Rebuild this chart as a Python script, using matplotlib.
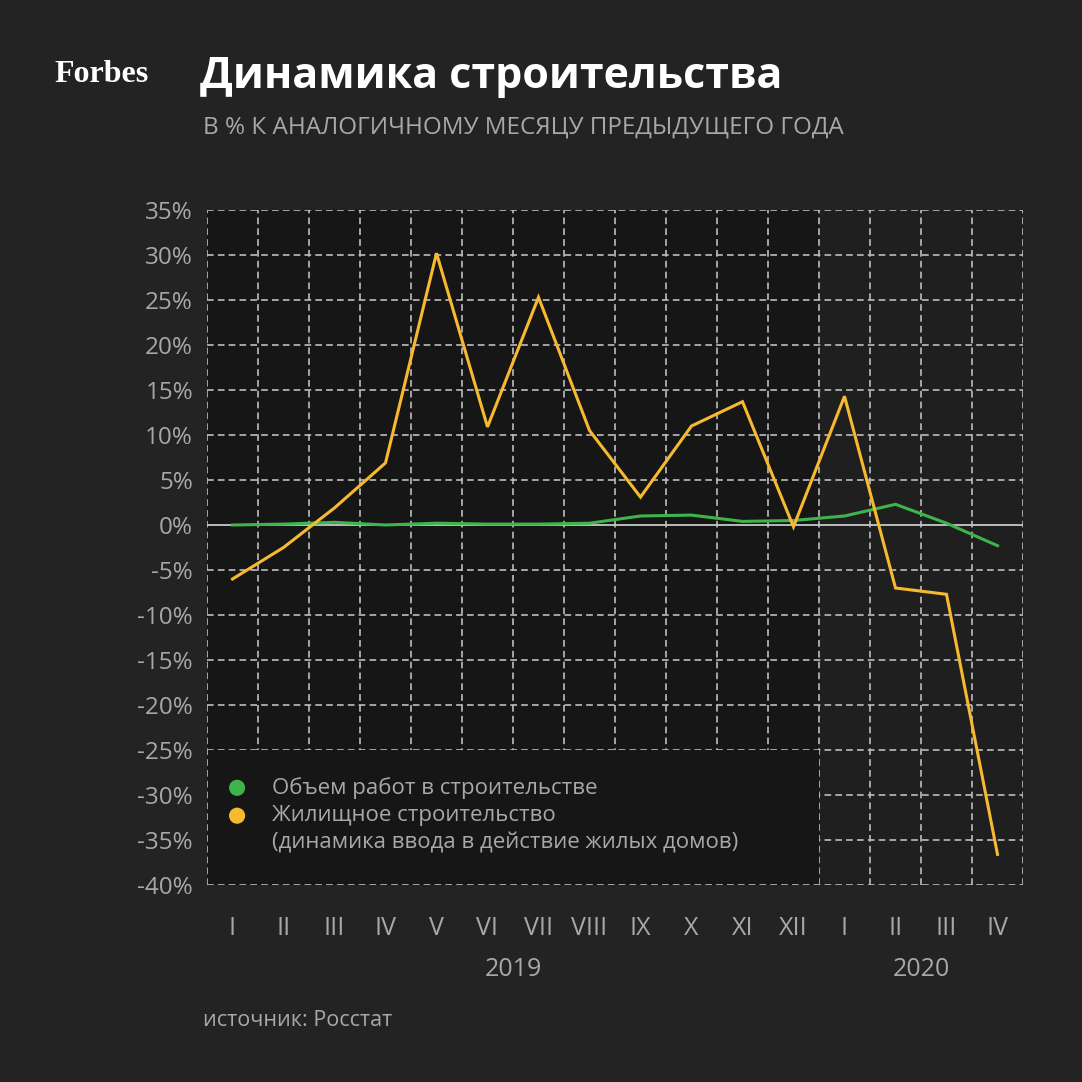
import matplotlib
matplotlib.use("Agg")
import matplotlib.pyplot as plt
from matplotlib.patches import Rectangle

months = ["I", "II", "III", "IV", "V", "VI", "VII", "VIII", "IX", "X", "XI", "XII",
          "I", "II", "III", "IV"]
years = ["2019", "2020"]
year_months = [12, 4]

works = [0.0, 0.1, 0.3, 0.0, 0.2, 0.1, 0.1, 0.2, 1.0, 1.1, 0.4, 0.5,
         1.0, 2.3, 0.2, -2.3]
housing = [-6.0, -2.5, 1.9, 6.9, 30.2, 10.9, 25.3, 10.5, 3.1, 11.0, 13.7, -0.2,
           14.3, -7.0, -7.7, -36.6]

yticks = list(range(-40, 36, 5))

BG = "#232323"
DARK = "#161616"
PLOT = "#1f1f1f"
GRID = "#bdbdbd"
TXT = "#a8a8a8"
GREEN = "#3db54a"
YELLOW = "#f6b92f"
FONT = ["Open Sans", "DejaVu Sans"]
NARROW = ["Liberation Sans Narrow", "Open Sans", "DejaVu Sans"]

fig = plt.figure(figsize=(10.82, 10.82), dpi=100, facecolor=BG)
W = H = 1082.0
ax = fig.add_axes([207 / W, 1 - 885 / H, 816 / W, 675 / H])
ax.set_facecolor(PLOT)

n = len(months)
x = list(range(n))
ax.set_xlim(-0.5, n - 0.5)
ax.set_ylim(-40, 35)

# 2019 background
ax.axvspan(-0.5, year_months[0] - 0.5, color=DARK, zorder=0, lw=0)

# grid
dash = (0, (4, 2.5))
for v in range(n + 1):
    ax.axvline(v - 0.5, color=GRID, lw=1.2, ls=dash, zorder=1)
for t in yticks:
    if t == 0:
        continue
    ax.axhline(t, color=GRID, lw=1.2, ls=dash, zorder=1)
ax.axhline(0, color="#c8c8c8", lw=1.3, zorder=1)

# legend block
ax.add_patch(Rectangle((-0.5, -40), year_months[0], 15, facecolor=DARK,
                       edgecolor="none", zorder=2))
ax.plot([-0.5, year_months[0] - 0.5], [-40, -40], color=GRID, lw=1.2, ls=dash, zorder=2)
ax.plot([-0.5, -0.5], [-40, -25], color=GRID, lw=1.2, ls=dash, zorder=2)

ax.plot(x, works, color=GREEN, lw=2.2, zorder=3, solid_joinstyle="miter")
ax.plot(x, housing, color=YELLOW, lw=2.2, zorder=4, solid_joinstyle="miter")

for s in ax.spines.values():
    s.set_visible(False)
ax.set_xticks([])
ax.set_yticks(yticks)
ax.set_yticklabels([f"{t}%" for t in yticks], color=TXT, fontsize=17.5, family=FONT)
ax.tick_params(axis="y", length=0, pad=10)

# x labels
trans = ax.get_xaxis_transform()
for i, m in enumerate(months):
    ax.text(i, -0.065, m, transform=trans, ha="center", va="center",
            color=TXT, fontsize=18, family=NARROW)
start = 0
for yr, cnt in zip(years, year_months):
    ax.text(start + cnt / 2 - 0.5, -0.125, yr, transform=trans, ha="center",
            va="center", color=TXT, fontsize=18, family=NARROW)
    start += cnt

# legend entries
ax.scatter([0.09, 0.09], [-29.2, -32.3], s=135, color=[GREEN, YELLOW], zorder=5,
           clip_on=False, linewidths=0)
legend_lines = ["Объем работ в строительстве", "Жилищное строительство",
                "(динамика ввода в действие жилых домов)"]
for k, t in enumerate(legend_lines):
    ax.text(0.77, -29.2 - 3.05 * k, t, ha="left", va="center", color=TXT,
            fontsize=16, family=FONT, zorder=5)

# header
fig.text(54 / W, 1 - 75 / H, "Forbes", color="white", fontsize=23,
         fontweight="bold", family=["Liberation Serif", "DejaVu Serif"],
         ha="left", va="center", fontstretch="condensed")
fig.text(200 / W, 1 - 76 / H, "Динамика строительства", color="white",
         fontsize=31, fontweight="bold", family=FONT, ha="left", va="center")
fig.text(203 / W, 1 - 127 / H, "В % К АНАЛОГИЧНОМУ МЕСЯЦУ ПРЕДЫДУЩЕГО ГОДА",
         color=TXT, fontsize=17.5, family=NARROW, ha="left", va="center")
fig.text(203 / W, 1 - 1020 / H, "источник: Росстат", color=TXT, fontsize=15.5,
         family=NARROW, ha="left", va="center")

fig.savefig("out.png", dpi=100, facecolor=BG)
